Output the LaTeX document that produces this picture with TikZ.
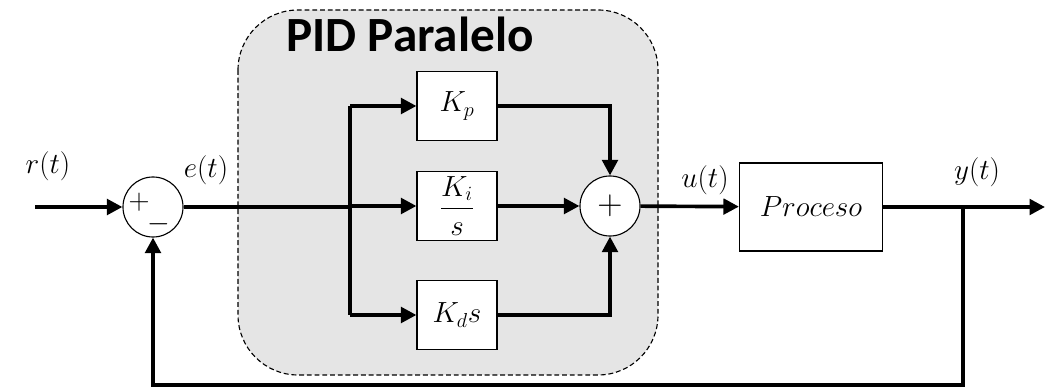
\documentclass[tikz,border=0pt]{standalone}
\usepackage{amsmath}
\usepackage{amssymb}
\usepackage{fontspec}
\newfontfamily\titlefont{Carlito}
\usepackage{tikz}
\usetikzlibrary{arrows.meta}

\begin{document}
\begin{tikzpicture}[x=0.025cm, y=-0.025cm,
   font=\huge,
   block/.style={draw, line width=0.8pt, fill=white, minimum width=2cm, minimum height=1.72cm, inner sep=0pt},
   sum/.style={draw, circle, line width=0.8pt, fill=white, minimum size=1.5cm, inner sep=0pt},
   sign/.style={inner sep=0pt},
   signal/.style={line width=2.6pt},
   arrow/.style={signal, -{Triangle[length=11pt,width=11pt]}}]
   \useasboundingbox (0,0) rectangle (1051,392);
   % PID box
   \draw [dash pattern=on 3.5pt off 2pt, line width=0.8pt, fill=gray!20, rounded corners=1.5cm] (238,10) rectangle (658,375);
   \node [font=\titlefont\bfseries\fontsize{35}{40}\selectfont] (title) at (410,34) {PID Paralelo};
   % Blocks
   \node [sum] (sum1) at (153,207) {};
   \node [sign] (plus) at (139,202) {$+$};
   \node [sign] (minus) at (159,224) {$-$};
   \node [block] (kp) at (457,106) {$K_p$};
   \node [block] (ki) at (457,206) {$\dfrac{K_i}{s}$};
   \node [block] (kd) at (457,315) {$K_ds$};
   \node [sum, font=\Huge] (sum2) at (610,206) {$+$};
   \node [block, minimum width=3.575cm, minimum height=2.2cm] (proc) at (811,207) {$Proceso$};
   % Points
   \coordinate (in) at (35,207);
   \coordinate (br) at (350,207);
   \coordinate (tap) at (963,207);
   \coordinate (out) at (1045,207);
   \coordinate (fb) at (963,385);
   % Signals
   \draw [arrow] (in) -- (sum1);
   \draw [signal] (sum1) -- (br);
   \draw [signal] (br |- kp) -- (br |- kd);
   \foreach \b in {kp,ki,kd}
      \draw [arrow] (br |- \b) -- (\b);
   \draw [arrow] (kp) -| (sum2);
   \draw [arrow] (ki) -- (sum2);
   \draw [arrow] (kd) -| (sum2);
   \draw [arrow] (sum2) -- (proc);
   \draw [arrow] (proc) -- (out);
   \draw [arrow] (tap) -- (fb) -| (sum1);
   % Labels
   \node (rlab) at (48,166) {$r(t)$};
   \node (elab) at (206,170) {$e(t)$};
   \node (ulab) at (705,180) {$u(t)$};
   \node (ylab) at (977,172) {$y(t)$};
\end{tikzpicture}
\end{document}
